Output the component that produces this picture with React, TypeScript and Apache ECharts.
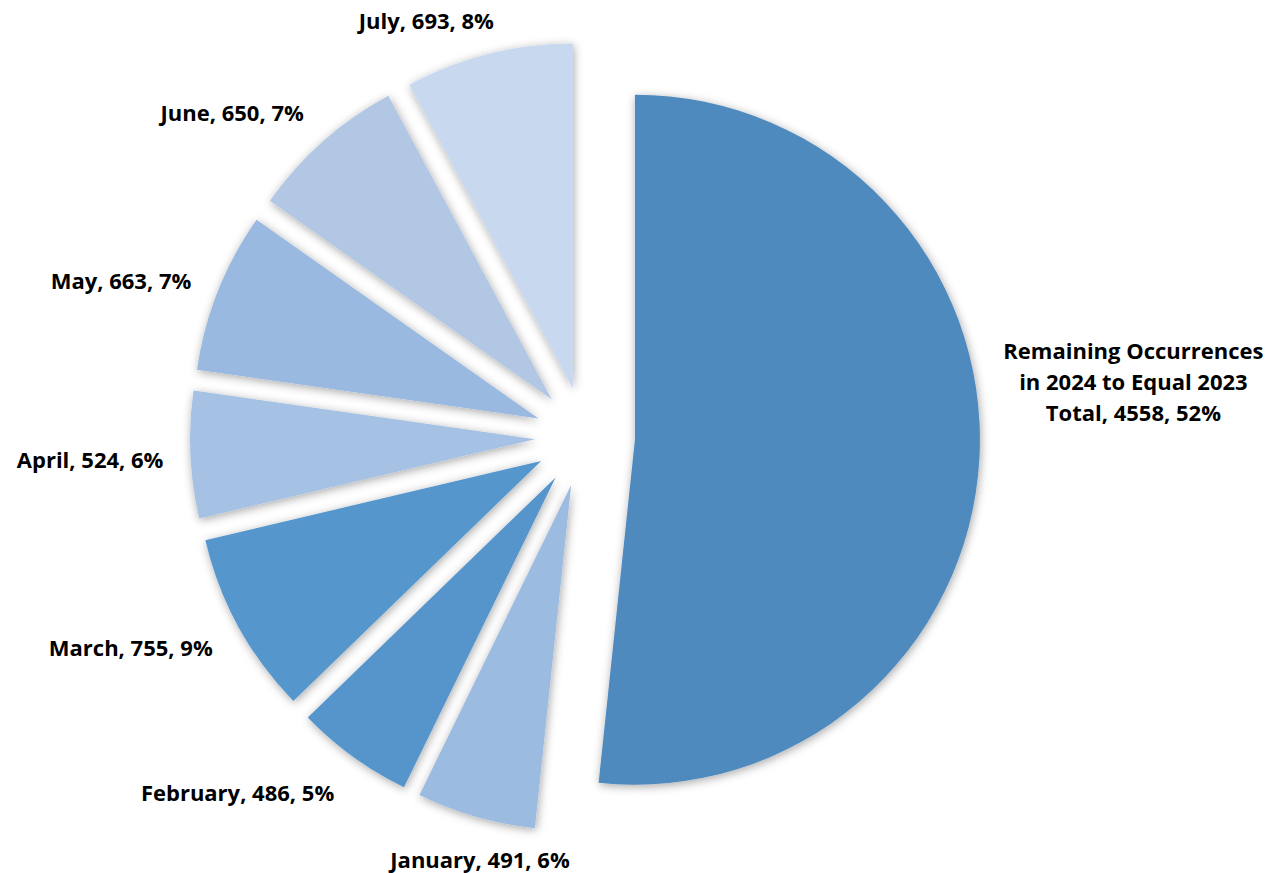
import React, { useEffect, useRef } from "react";
import * as echarts from "echarts";

const categories = [
  "Remaining Occurrences\nin 2024 to Equal 2023\nTotal",
  "January",
  "February",
  "March",
  "April",
  "May",
  "June",
  "July",
];
const values = [4558, 491, 486, 755, 524, 663, 650, 693];
const colors = ["#4F8ABE", "#9BBBE1", "#5595CC", "#5596CD", "#A5C1E4", "#9AB9E0", "#B1C7E4", "#C8D8EE"];

// label nudges (styling only): [dx, dy, align]
const labelNudge: [number, number, string | undefined][] = [
  [114, -79, "center"],
  [19, 9, "center"],
  [7, 7, undefined],
  [10, 4, undefined],
  [13, 3, undefined],
  [11, 2, undefined],
  [9, -3, undefined],
  [19, 0, undefined],
];

export default function App() {
  const ref = useRef<HTMLDivElement>(null);
  useEffect(() => {
    document.body.style.margin = "0";
    const chart = echarts.init(ref.current!, undefined, { renderer: "svg" });
    chart.setOption({
      animation: false,
      backgroundColor: "#ffffff",
      series: [
        {
          type: "pie",
          center: [585, 437],
          radius: [0, 345],
          startAngle: 90,
          clockwise: true,
          percentPrecision: 0,
          selectedMode: "multiple",
          selectedOffset: 50,
          emphasis: { disabled: true },
          itemStyle: {
            shadowBlur: 10,
            shadowColor: "rgba(0,0,0,0.35)",
            shadowOffsetX: 1,
            shadowOffsetY: 2,
          },
          label: {
            show: true,
            position: "outside",
            fontFamily: "Open Sans",
            fontWeight: "bold",
            fontSize: 22,
            lineHeight: 31,
            color: "#000000",
            formatter: "{b}, {c}, {d}%",
          },
          labelLine: { show: false, length: 35, length2: 0 },
          labelLayout: (p: any) => {
            const n = labelNudge[p.dataIndex];
            const o: any = { dx: n[0], dy: n[1] };
            if (n[2]) o.align = n[2];
            return o;
          },
          data: categories.map((name, i) => ({
            name,
            value: values[i],
            selected: true,
            itemStyle: { color: colors[i] },
          })),
        },
      ],
    });
    return () => chart.dispose();
  }, []);
  return <div ref={ref} style={{ width: 1280, height: 873 }} />;
}
